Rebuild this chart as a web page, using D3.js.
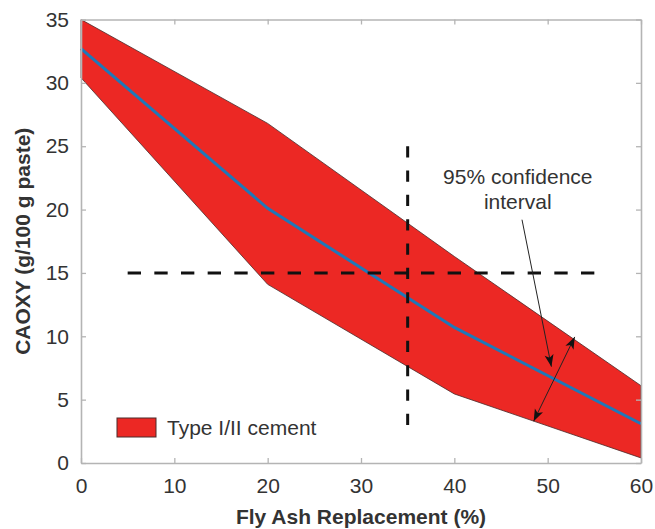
<!DOCTYPE html>
<html>
<head>
<meta charset="utf-8">
<script src="https://cdn.jsdelivr.net/npm/d3@7"></script>
<style>
  html, body { margin: 0; padding: 0; background: #fff; }
  svg text { font-family: "Liberation Sans", Arial, Helvetica, sans-serif; }
</style>
</head>
<body>
<svg id="chart" width="655" height="529"></svg>
<script>
// Fly ash replacement levels (%) where the model was evaluated
const flyAsh = [0, 20, 40, 60];
// Predicted CAOXY (g/100 g paste): mean and 95% confidence bounds
const caoxyMean  = [32.7, 20.1, 10.7, 3.1];
const caoxyUpper = [35.0, 26.8, 16.3, 6.1];
const caoxyLower = [30.4, 14.1, 5.45, 0.4];

// Axis ticks
const xTicks = [0, 10, 20, 30, 40, 50, 60];
const yTicks = [0, 5, 10, 15, 20, 25, 30, 35];

// Dashed guide lines: CAOXY = 15 and 35 % replacement
const guideY = 15, guideYFrom = 5, guideYTo = 55;
const guideX = 35, guideXFrom = 3, guideXTo = 25;

// Confidence interval callout (data units)
const calloutText = ["95% confidence", "interval"];
const calloutAnchor = [46.8, 22.0];
const pointerFrom = [47.25, 19.2], pointerTo = [50.4, 7.6];
const spanFrom = [48.5, 3.3], spanTo = [52.9, 9.95];

const legendLabel = "Type I/II cement";

const svg = d3.select("#chart");
const margin = { left: 81, right: 14, top: 19.5, bottom: 66 };
const W = 655, H = 529;
const fontPx = "21px";

const x = d3.scaleLinear().domain([0, 60]).range([margin.left, W - margin.right]);
const y = d3.scaleLinear().domain([0, 35]).range([H - margin.bottom, margin.top]);

const red = "#ec2824", blue = "#1f78b8", frame = "#b4b4b4", ink = "#333";

// Dash pattern that starts and ends with a dash over a given length
function fitDash(len, dash, gap) {
  const n = Math.max(1, Math.round((len + gap) / (dash + gap)));
  const k = len / (n * dash + (n - 1) * gap);
  return `${dash * k},${gap * k}`;
}

// Arrowhead
const defs = svg.append("defs");
defs.append("marker")
  .attr("id", "head")
  .attr("viewBox", "-1 -5 14 10")
  .attr("refX", 12).attr("refY", 0)
  .attr("markerWidth", 14).attr("markerHeight", 10)
  .attr("markerUnits", "userSpaceOnUse")
  .attr("orient", "auto-start-reverse")
  .append("path")
  .attr("d", "M0,-4.5 L12,0 L0,4.5 L3,0 Z")
  .attr("fill", "#111");

const rows = flyAsh.map((f, i) => ({ f, m: caoxyMean[i], lo: caoxyLower[i], hi: caoxyUpper[i] }));

// Confidence band
svg.append("path")
  .datum(rows)
  .attr("d", d3.area().x(d => x(d.f)).y0(d => y(d.lo)).y1(d => y(d.hi)))
  .attr("fill", red)
  .attr("stroke", "#4a2a2a")
  .attr("stroke-width", 0.8);

// Mean prediction
svg.append("path")
  .datum(rows)
  .attr("d", d3.line().x(d => x(d.f)).y(d => y(d.m)))
  .attr("fill", "none")
  .attr("stroke", blue)
  .attr("stroke-width", 3);

// Dashed guides
svg.append("line")
  .attr("x1", x(guideYFrom)).attr("x2", x(guideYTo))
  .attr("y1", y(guideY)).attr("y2", y(guideY))
  .attr("stroke", "#111").attr("stroke-width", 3)
  .attr("stroke-dasharray", fitDash(x(guideYTo) - x(guideYFrom), 13, 13));
svg.append("line")
  .attr("x1", x(guideX)).attr("x2", x(guideX))
  .attr("y1", y(guideXTo)).attr("y2", y(guideXFrom))
  .attr("stroke", "#111").attr("stroke-width", 3)
  .attr("stroke-dasharray", fitDash(y(guideXFrom) - y(guideXTo), 11.5, 13.5));

// Axes with inward ticks on all four sides
function styleAxis(g) {
  g.select(".domain").attr("stroke", frame).attr("stroke-width", 1.6);
  g.selectAll(".tick line").attr("stroke", frame).attr("stroke-width", 1.3);
  g.selectAll(".tick text").attr("fill", ink).style("font-size", fontPx);
}
svg.append("g")
  .attr("transform", `translate(0,${y(0)})`)
  .call(d3.axisBottom(x).tickValues(xTicks).tickSizeInner(-5).tickSizeOuter(0).tickPadding(15))
  .call(styleAxis);
svg.append("g")
  .attr("transform", `translate(${x(0)},0)`)
  .call(d3.axisLeft(y).tickValues(yTicks).tickSizeInner(-5).tickSizeOuter(0).tickPadding(12))
  .call(styleAxis);
svg.append("g")
  .attr("transform", `translate(0,${y(35)})`)
  .call(d3.axisTop(x).tickValues(xTicks).tickSizeInner(-5).tickSizeOuter(0).tickFormat(""))
  .call(styleAxis);
svg.append("g")
  .attr("transform", `translate(${x(60)},0)`)
  .call(d3.axisRight(y).tickValues(yTicks).tickSizeInner(-5).tickSizeOuter(0).tickFormat(""))
  .call(styleAxis);

// Axis titles
svg.append("text")
  .attr("x", (x(0) + x(60)) / 2).attr("y", 524)
  .attr("text-anchor", "middle")
  .attr("fill", ink)
  .style("font-size", fontPx).style("font-weight", "bold")
  .text("Fly Ash Replacement (%)");
svg.append("text")
  .attr("transform", `translate(30,${(y(0) + y(35)) / 2}) rotate(-90)`)
  .attr("text-anchor", "middle")
  .attr("fill", ink)
  .style("font-size", fontPx).style("font-weight", "bold")
  .text("CAOXY (g/100 g paste)");

// Callout
const callout = svg.append("text")
  .attr("text-anchor", "middle")
  .attr("fill", ink)
  .style("font-size", fontPx);
calloutText.forEach((t, i) => {
  callout.append("tspan")
    .attr("x", x(calloutAnchor[0]))
    .attr("y", y(calloutAnchor[1]) + i * 25)
    .text(t);
});
svg.append("line")
  .attr("x1", x(pointerFrom[0])).attr("y1", y(pointerFrom[1]))
  .attr("x2", x(pointerTo[0])).attr("y2", y(pointerTo[1]))
  .attr("stroke", "#222").attr("stroke-width", 1)
  .attr("marker-end", "url(#head)");
svg.append("line")
  .attr("x1", x(spanFrom[0])).attr("y1", y(spanFrom[1]))
  .attr("x2", x(spanTo[0])).attr("y2", y(spanTo[1]))
  .attr("stroke", "#222").attr("stroke-width", 1)
  .attr("marker-start", "url(#head)")
  .attr("marker-end", "url(#head)");

// Legend
const legend = svg.append("g").attr("transform", "translate(117,418)");
legend.append("rect")
  .attr("width", 39).attr("height", 19)
  .attr("fill", red).attr("stroke", "#4a2a2a").attr("stroke-width", 1);
legend.append("text")
  .attr("x", 50).attr("y", 17)
  .attr("fill", ink)
  .style("font-size", fontPx)
  .text(legendLabel);
</script>
</body>
</html>
